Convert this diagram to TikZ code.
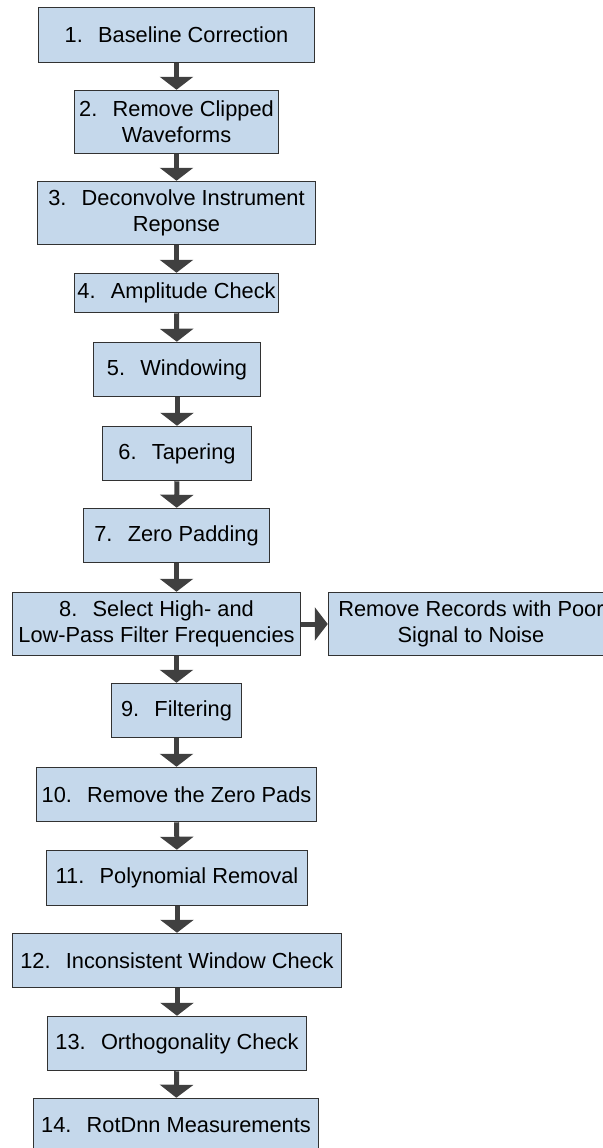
\documentclass[tikz,border=0pt]{standalone}
\usepackage{fontspec}
\setmainfont{Liberation Sans}
\usetikzlibrary{arrows.meta}
\definecolor{BoxClr}{RGB}{197,216,235}
\definecolor{EdgeClr}{RGB}{50,50,50}
\definecolor{ArrowClr}{RGB}{64,64,64}
\newcommand{\numgap}{\hspace{0.7em}}

\begin{document}
\begin{tikzpicture}[x=0.5pt,y=-0.5pt,
  stepbox/.style={draw=EdgeClr,line width=0.75pt,fill=BoxClr,inner sep=0pt,
    align=center,font=\fontsize{10.9}{13}\selectfont},
  flowarrow/.style={draw=ArrowClr,line width=2.5pt,
    -{Triangle[width=16.5pt,length=6.5pt]}}]
\useasboundingbox (0,0) rectangle (603,1148);
\clip (0,0) rectangle (603,1148);

\node[stepbox,minimum width=138pt,minimum height=27.5pt] (n1) at (176.5,35) {1.\numgap Baseline Correction};
\node[stepbox,minimum width=102pt,minimum height=31.5pt] (n2) at (176.5,122) {2.\numgap Remove Clipped\\Waveforms};
\node[stepbox,minimum width=139pt,minimum height=31.5pt] (n3) at (176.5,213) {3.\numgap Deconvolve Instrument\\Reponse};
\node[stepbox,minimum width=102pt,minimum height=19.5pt] (n4) at (176.5,293) {4.\numgap Amplitude Check};
\node[stepbox,minimum width=83.5pt,minimum height=27pt] (n5) at (177,369.5) {5.\numgap Windowing};
\node[stepbox,minimum width=74.5pt,minimum height=27pt] (n6) at (177,453.5) {6.\numgap Tapering};
\node[stepbox,minimum width=93pt,minimum height=27pt] (n7) at (176.5,535.5) {7.\numgap Zero Padding};
\node[stepbox,minimum width=144pt,minimum height=31.5pt] (n8) at (156.5,624) {8.\numgap Select High- and\\Low-Pass Filter Frequencies};
\node[stepbox,minimum width=142.5pt,minimum height=31.5pt] (snr) at (471,624) {Remove Records with Poor\\Signal to Noise};
\node[stepbox,minimum width=65pt,minimum height=27pt] (n9) at (176.5,710.5) {9.\numgap Filtering};
\node[stepbox,minimum width=140pt,minimum height=27pt] (n10) at (176.5,794.5) {10.\numgap Remove the Zero Pads};
\node[stepbox,minimum width=130.5pt,minimum height=27.5pt] (n11) at (177,878) {11.\numgap Polynomial Removal};
\node[stepbox,minimum width=164.5pt,minimum height=27pt] (n12) at (177,960.5) {12.\numgap Inconsistent Window Check};
\node[stepbox,minimum width=129.5pt,minimum height=27pt] (n13) at (177,1043.5) {13.\numgap Orthogonality Check};
\node[stepbox,minimum width=142.5pt,minimum height=27pt] (n14) at (176,1125.5) {14.\numgap RotDnn Measurements};

\draw[flowarrow] (n1) -- (n2);
\draw[flowarrow] (n2) -- (n3);
\draw[flowarrow] (n3) -- (n4);
\draw[flowarrow] (n4) -- (n5);
\draw[flowarrow] (n5) -- (n6);
\draw[flowarrow] (n6) -- (n7);
\draw[flowarrow] (n7) -- (n7 |- n8.north);
\draw[flowarrow] (n8) -- (snr);
\draw[flowarrow] (n8.south -| n9) -- (n9);
\draw[flowarrow] (n9) -- (n10);
\draw[flowarrow] (n10) -- (n11);
\draw[flowarrow] (n11) -- (n12);
\draw[flowarrow] (n12) -- (n13);
\draw[flowarrow] (n13) -- (n14);

\end{tikzpicture}
\end{document}
